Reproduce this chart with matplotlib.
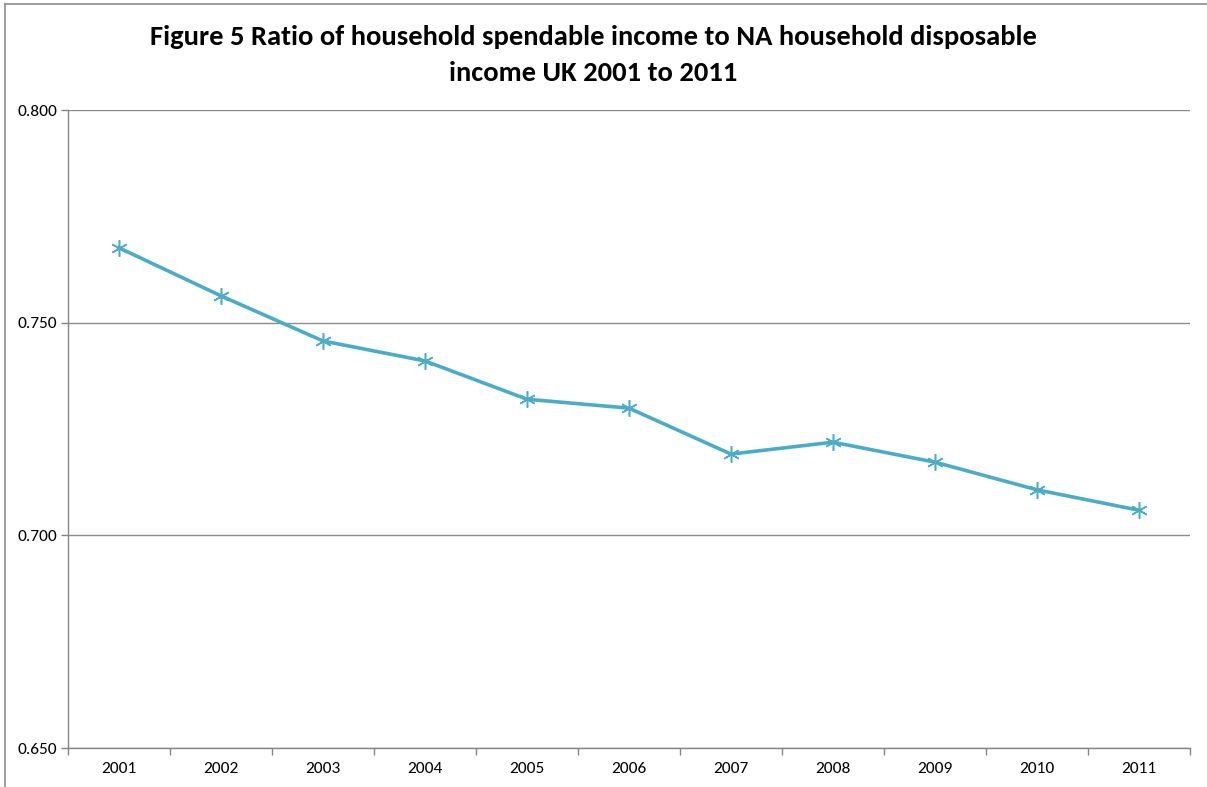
import matplotlib
matplotlib.use("Agg")
import matplotlib.pyplot as plt
from matplotlib.lines import Line2D

# Data
years = ["2001", "2002", "2003", "2004", "2005", "2006",
         "2007", "2008", "2009", "2010", "2011"]
ratio = [0.7676, 0.7563, 0.7457, 0.7410, 0.7320, 0.7299,
         0.7191, 0.7219, 0.7172, 0.7107, 0.7059]
y_ticks = [0.650, 0.700, 0.750, 0.800]

TITLE = "Figure 5 Ratio of household spendable income to NA household disposable\nincome UK 2001 to 2011"
LINE_COLOR = "#4BACC6"
AXIS_GREY = "#868686"
FONTS = ["Carlito", "Lato", "DejaVu Sans"]

fig = plt.figure(figsize=(12.07, 7.87), dpi=100)
fig.patch.set_facecolor("white")

ax = fig.add_axes([68 / 1207, 1 - 748 / 787, (1190 - 68) / 1207, (748 - 110) / 787])

x = list(range(len(years)))
ax.plot(x, ratio, color=LINE_COLOR, linewidth=2.6,
        marker=(6, 2, 0), markersize=12, markeredgewidth=1.1,
        markeredgecolor=LINE_COLOR, zorder=3)

# ── Axes ─────────────────────────────────────
ax.set_xlim(-0.5, len(years) - 0.5)
ax.set_ylim(y_ticks[0], y_ticks[-1])
ax.set_yticks(y_ticks)
ax.set_yticklabels([f"{v:.3f}" for v in y_ticks], fontsize=12.5, family=FONTS)
ax.set_xticks(x)
ax.set_xticklabels(years, fontsize=12.5, family=FONTS)
ax.set_xticks([i - 0.5 for i in range(len(years) + 1)], minor=True)

ax.tick_params(axis="x", which="major", length=0, pad=10)
ax.tick_params(axis="x", which="minor", length=5, color=AXIS_GREY, width=1)
ax.tick_params(axis="y", which="major", length=5, color=AXIS_GREY, width=1, pad=3)

ax.grid(axis="y", color="#8c8c8c", linewidth=1)
ax.set_axisbelow(True)

for side in ["top", "right"]:
    ax.spines[side].set_visible(False)
for side in ["left", "bottom"]:
    ax.spines[side].set_color(AXIS_GREY)
    ax.spines[side].set_linewidth(1)

# ── Title ────────────────────────────────────
fig.text(593 / 1207, 1 - 55 / 787, TITLE, ha="center", va="center",
         fontsize=20.5, fontweight="bold", linespacing=1.6, family=FONTS)

# Outer chart frame (top and left edges visible)
fig.add_artist(Line2D([5 / 1207, 1], [1 - 4 / 787, 1 - 4 / 787],
                      transform=fig.transFigure, color="#8c8c8c", linewidth=1.2))
fig.add_artist(Line2D([5 / 1207, 5 / 1207], [0, 1 - 4 / 787],
                      transform=fig.transFigure, color="#8c8c8c", linewidth=1.2))

fig.savefig("out.png", dpi=100, facecolor="white")
